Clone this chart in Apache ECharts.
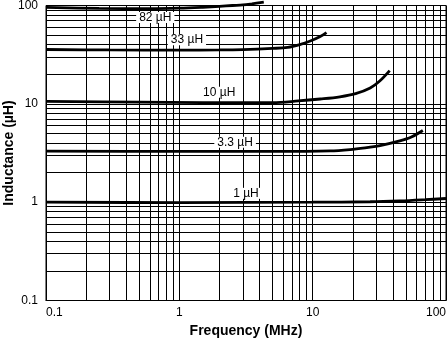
<!DOCTYPE html>
<html>
<head>
<meta charset="utf-8">
<script src="https://cdn.jsdelivr.net/npm/echarts@6/dist/echarts.min.js"></script>
<style>
  html, body { margin: 0; padding: 0; background: #fff; }
  #chart { width: 448px; height: 342px; }
</style>
</head>
<body>
<div id="chart"></div>
<script>
// Inductance vs. frequency for five inductor values (log-log)
const seriesNames = ['82 µH', '33 µH', '10 µH', '3.3 µH', '1 µH'];

const freq82 = [0.1, 0.25, 0.6, 1, 1.5, 2, 2.5, 3, 3.5, 4.3];
const ind82  = [95.5, 93.5, 93, 94, 96, 98, 100, 101.5, 104, 108];

const freq33 = [0.1, 0.3, 1, 2, 3, 5, 6.5, 8, 9.6, 11.3, 12.7];
const ind33  = [35.7, 35.3, 35.2, 35.3, 35.6, 36.6, 37.5, 40, 43.5, 48, 53];

const freq10 = [0.1, 0.5, 1.5, 5, 7.8, 11.4, 16, 21, 27, 32, 37.8];
const ind10  = [10.6, 10.4, 10.3, 10.3, 10.7, 11.2, 11.8, 12.7, 14.5, 17.2, 21.8];

const freq3p3 = [0.1, 1, 5, 13.5, 20, 27, 32, 45, 55, 67];
const ind3p3  = [3.3, 3.28, 3.28, 3.32, 3.45, 3.62, 3.76, 4.2, 4.6, 5.35];

const freq1 = [0.1, 1, 10, 27, 45, 70, 100];
const ind1  = [1.0, 0.99, 1.0, 1.01, 1.03, 1.06, 1.09];

// Axis ticks (decades) and the 2..9 sub-decade grid values
const xTickLabels = ['0.1', '1', '10', '100'];
const yTickLabels = ['0.1', '1', '10', '100'];
const minorX = [0.2,0.3,0.4,0.5,0.6,0.7,0.8,0.9, 2,3,4,5,6,7,8,9, 20,30,40,50,60,70,80,90];
const minorY = [0.2,0.3,0.4,0.5,0.6,0.7,0.8,0.9, 2,3,4,5,6,7,8,9, 20,30,40,50,60,70,80,90];

const FONT = '"Liberation Sans", Arial, Helvetica, sans-serif';

function tickText(v) {
  const e = Math.round(Math.log10(v));
  return xTickLabels[e + 1] !== undefined ? xTickLabels[e + 1] : String(v);
}
function tickTextY(v) {
  const e = Math.round(Math.log10(v));
  return yTickLabels[e + 1] !== undefined ? yTickLabels[e + 1] : String(v);
}

const curves = [
  { f: freq82, v: ind82, at: [0.66, 75.7] },
  { f: freq33, v: ind33, at: [1.14, 44.9] },
  { f: freq10, v: ind10, at: [1.99, 13.1] },
  { f: freq3p3, v: ind3p3, at: [2.62, 4.06] },
  { f: freq1, v: ind1, at: [3.16, 1.23] }
];

const curveSeries = curves.map((c, i) => ({
  name: seriesNames[i],
  type: 'line',
  data: c.f.map((f, k) => [f, c.v[k]]),
  smooth: 0.35,
  showSymbol: false,
  symbol: 'none',
  clip: false,
  z: 5,
  lineStyle: { color: '#000', width: 2.8 },
  markPoint: {
    symbol: 'rect',
    symbolSize: 0,
    silent: true,
    z: 10,
    data: [{
      coord: c.at,
      label: {
        show: true,
        position: 'inside',
        formatter: seriesNames[i],
        color: '#000',
        fontFamily: FONT,
        fontSize: 12,
        lineHeight: 11,
        backgroundColor: '#fff',
        padding: [0, 3]
      }
    }]
  }
}));

// Holder series for the sub-decade grid lines
const gridSeries = {
  name: 'grid',
  type: 'line',
  data: [],
  z: 1,
  silent: true,
  markLine: {
    silent: true,
    symbol: 'none',
    animation: false,
    z: 1,
    label: { show: false },
    lineStyle: { color: '#000', width: 1, type: 'solid' },
    emphasis: { disabled: true },
    data: minorX.map(v => ({ xAxis: v })).concat(minorY.map(v => ({ yAxis: v })))
  }
};

const chart = echarts.init(document.getElementById('chart'), null, { renderer: 'canvas' });
chart.setOption({
  animation: false,
  backgroundColor: '#fff',
  grid: {
    left: 46, right: 2, top: 5.5, bottom: 41.5,
    containLabel: false,
    outerBoundsMode: 'none',
    show: true, borderColor: '#000', borderWidth: 1, backgroundColor: '#fff'
  },
  xAxis: {
    type: 'log', logBase: 10, min: 0.1, max: 100,
    name: 'Frequency (MHz)', nameLocation: 'middle', nameGap: 24, nameMoveOverlap: false,
    nameTextStyle: { fontFamily: FONT, fontSize: 14, fontWeight: 'bold', color: '#000' },
    axisLine: { show: true, lineStyle: { color: '#000', width: 1 } },
    axisTick: { show: false },
    splitLine: { show: true, lineStyle: { color: '#000', width: 1 } },
    axisLabel: {
      formatter: tickText, color: '#000', fontFamily: FONT, fontSize: 12, margin: 6,
      alignMinLabel: 'left', alignMaxLabel: 'right'
    }
  },
  yAxis: {
    type: 'log', logBase: 10, min: 0.1, max: 100,
    name: 'Inductance (µH)', nameLocation: 'middle', nameGap: 30, nameRotate: 90,
    nameMoveOverlap: false,
    nameTextStyle: { fontFamily: FONT, fontSize: 14, fontWeight: 'bold', color: '#000' },
    axisLine: { show: true, lineStyle: { color: '#000', width: 1 } },
    axisTick: { show: false },
    splitLine: { show: true, lineStyle: { color: '#000', width: 1 } },
    axisLabel: { formatter: tickTextY, color: '#000', fontFamily: FONT, fontSize: 12, margin: 8 }
  },
  series: [gridSeries].concat(curveSeries)
});
</script>
</body>
</html>
